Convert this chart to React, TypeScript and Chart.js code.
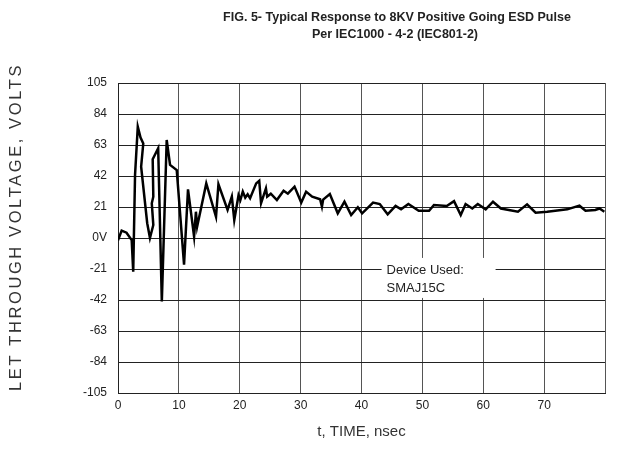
import React, { useEffect, useRef } from "react";
import { Chart, registerables } from "chart.js";

Chart.register(...registerables);

const titleLines = [
  "FIG. 5- Typical Response to 8KV Positive Going ESD Pulse",
  "Per IEC1000 - 4-2 (IEC801-2)",
];
const xTitle = "t, TIME, nsec";
const yTitle = "LET THROUGH VOLTAGE, VOLTS";
const noteLines = ["Device Used:", "SMAJ15C"];

const timeNs = [
  0, 0.6, 1.4, 2.25, 2.5, 2.8, 3.25, 3.7, 4.15, 3.8, 4.8, 5.25, 5.8, 5.55, 5.8, 5.7,
  6.6, 7.2, 8.0, 8.55, 9.65, 10.85, 11.5, 12.5, 12.8, 13.0, 14.5, 16.1, 16.5, 18.0,
  18.7, 19.1, 19.8, 20.1, 20.5, 20.9, 21.3, 21.7, 22.7, 23.2, 23.5, 24.3, 24.5, 25.1,
  26.1, 27.2, 27.9, 29.0, 30.1, 30.9, 31.9, 33.2, 33.5, 33.7, 34.8, 36.1, 37.2, 38.3,
  39.4, 40.1, 41.9, 43.0, 44.3, 45.6, 46.5, 47.7, 49.4, 51.1, 51.9, 54.0, 55.2, 56.3,
  57.1, 58.2, 59.1, 60.4, 61.6, 62.9, 65.7, 67.2, 68.6, 70.5, 73.8, 75.8, 76.8, 78.4,
  79.1, 79.9,
];
const voltage = [
  -1.5, 5, 3.6, -1.4, -22.8, 42.7, 75.4, 68, 64, 48.3, 10, 0, 8.8, 23.5, 28, 53.3,
  60.8, -43, 66.4, 49.5, 46, -18, 33, 1, 17.8, 7.7, 37, 14.4, 36.4, 19,
  28, 12.2, 29, 25.7, 31.4, 27.3, 29.6, 26.9, 37, 38.8, 23.5, 33.6, 28, 30,
  25.7, 32, 30, 34.8, 24, 31.4, 28, 26.2, 21.2, 26, 29.8, 16.7, 24.6, 15.6,
  20.8, 16.7, 24, 23, 16, 21.7, 19.4, 23, 18.5, 18.5, 22.4, 21.7, 25, 15.6,
  23, 20, 23, 19.4, 24.6, 20, 17.8, 22.8, 17.1, 17.8, 19.4, 21.9, 18.5, 19,
  20, 17.8,
];

const FONT = "'Liberation Sans', Arial, Helvetica, sans-serif";

export default function App() {
  const ref = useRef<HTMLCanvasElement | null>(null);

  useEffect(() => {
    document.body.style.margin = "0";
    const canvas = ref.current;
    if (!canvas) return;
    const points = timeNs.map((t, i) => ({ x: t, y: voltage[i] }));

    const textPlugin = {
      id: "texts",
      afterDraw(chart: any) {
        const ctx = chart.ctx as CanvasRenderingContext2D;
        const xs = chart.scales.x;
        const ys = chart.scales.y;
        ctx.save();
        // title
        ctx.fillStyle = "#222";
        ctx.font = `bold 12.5px ${FONT}`;
        ctx.textAlign = "center";
        ctx.textBaseline = "middle";
        ctx.fillText(titleLines[0], 397, 18);
        ctx.fillText(titleLines[1], 395, 35);
        // x title
        ctx.fillStyle = "#333";
        ctx.font = `15px ${FONT}`;
        ctx.fillText(xTitle, (xs.left + xs.right) / 2, 432);
        // y title
        ctx.save();
        ctx.translate(16, 227);
        ctx.rotate(-Math.PI / 2);
        ctx.font = `16.5px ${FONT}`;
        (ctx as any).letterSpacing = "2.6px";
        ctx.fillText(yTitle, 0, 0);
        ctx.restore();
        // note box
        const bx = xs.getPixelForValue(43.3);
        const by = ys.getPixelForValue(-13.5);
        ctx.fillStyle = "#fff";
        ctx.fillRect(bx, by, 114, 40);
        ctx.fillStyle = "#222";
        ctx.font = `13px ${FONT}`;
        ctx.textAlign = "left";
        ctx.fillText(noteLines[0], bx + 5, by + 12);
        ctx.fillText(noteLines[1], bx + 5, by + 30);
        ctx.restore();
      },
    };

    const chart = new Chart(canvas, {
      type: "line",
      data: {
        datasets: [
          {
            data: points,
            borderColor: "#000",
            borderWidth: 2.5,
            pointRadius: 0,
            tension: 0,
            fill: false,
          },
        ],
      },
      options: {
        animation: false,
        responsive: false,
        parsing: false as any,
        layout: { padding: { top: 83, right: 13, left: 0, bottom: 0 } },
        plugins: {
          legend: { display: false },
          title: { display: false },
          tooltip: { enabled: false },
        },
        scales: {
          x: {
            type: "linear",
            min: 0,
            max: 80,
            afterFit: (axis: any) => {
              axis.height = 62;
            },
            ticks: {
              stepSize: 10,
              padding: 5,
              color: "#222",
              font: { family: FONT, size: 12 },
              maxRotation: 0,
              callback: (v: any) => (Number(v) >= 80 ? "" : String(v)),
            },
            grid: { color: "#555", lineWidth: 1, drawTicks: false },
            border: { color: "#222", width: 1 },
          },
          y: {
            type: "linear",
            min: -105,
            max: 105,
            afterFit: (axis: any) => {
              axis.width = 118;
            },
            ticks: {
              stepSize: 21,
              padding: 11,
              color: "#222",
              font: { family: FONT, size: 12 },
              callback: (v: any) => (Number(v) === 0 ? "0V" : String(v)),
            },
            grid: { color: "#222", lineWidth: 1, drawTicks: false },
            border: { color: "#222", width: 1 },
          },
        },
      },
      plugins: [textPlugin],
    });

    return () => chart.destroy();
  }, []);

  return (
    <div style={{ position: "absolute", left: 0, top: 0, width: 618, height: 455, background: "#fff" }}>
      <canvas ref={ref} width={618} height={455} style={{ display: "block" }} />
    </div>
  );
}
